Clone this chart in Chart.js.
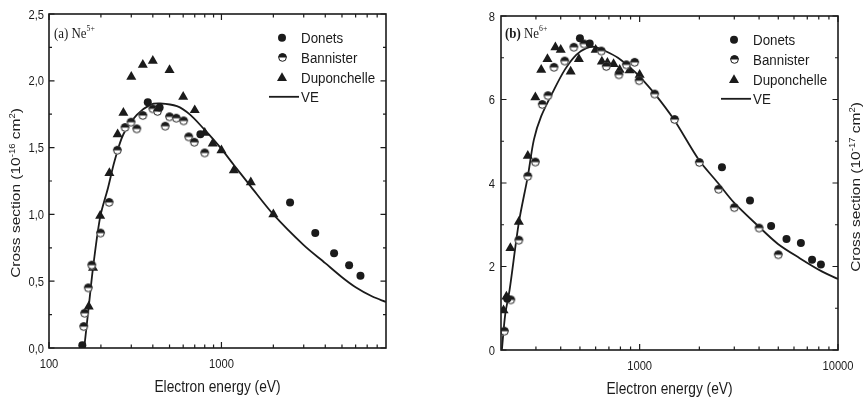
<!DOCTYPE html>
<html>
<head>
<meta charset="utf-8">
<title>Ne5+ and Ne6+ electron-impact ionization cross sections</title>
<script src="https://cdn.jsdelivr.net/npm/chart.js@4.4.1/dist/chart.umd.min.js"></script>
<style>
  html, body { margin: 0; padding: 0; background: #fff; }
  body { width: 865px; height: 400px; position: relative; overflow: hidden; }
  canvas { position: absolute; top: 0; }
  #neA { left: 0; }
  #neB { left: 435px; }
</style>
</head>
<body>
<canvas id="neA" width="435" height="400"></canvas>
<canvas id="neB" width="430" height="400"></canvas>
<script>
// ---------- Ne5+ (cross section in 1e-16 cm^2, energy in eV) ----------
const ne5DonetsE = [156, 374, 438, 755, 2500, 3500, 4500, 5500, 6400];
const ne5DonetsS = [0.02, 1.84, 1.80, 1.60, 1.09, 0.86, 0.71, 0.62, 0.54];
const ne5BannisterE = [159, 161, 169, 177, 199, 223, 249, 276, 299, 323, 350, 400, 426, 472, 500, 547, 604, 646, 696, 800];
const ne5BannisterS = [0.16, 0.26, 0.45, 0.62, 0.86, 1.09, 1.48, 1.65, 1.69, 1.64, 1.74, 1.79, 1.77, 1.66, 1.73, 1.72, 1.70, 1.58, 1.54, 1.46];
const ne5DuponchelleE = [170, 180, 198, 224, 250, 270, 300, 350, 400, 500, 600, 700, 800, 890, 1000, 1180, 1480, 2000];
const ne5DuponchelleS = [0.31, 0.60, 0.99, 1.31, 1.60, 1.76, 2.03, 2.12, 2.15, 2.08, 1.88, 1.78, 1.61, 1.53, 1.48, 1.33, 1.24, 1.00];
const ne5VeE = [160, 170, 180, 198, 220, 240, 270, 323, 386, 442, 552, 660, 790, 900, 1000, 1180, 1478, 2000, 3000, 4000, 5000, 6000, 7500, 9000];
const ne5VeS = [0, 0.31, 0.60, 0.98, 1.20, 1.40, 1.60, 1.745, 1.82, 1.83, 1.81, 1.745, 1.64, 1.56, 1.49, 1.37, 1.21, 1.00, 0.77, 0.635, 0.53, 0.455, 0.385, 0.345];

// ---------- Ne6+ (cross section in 1e-17 cm^2, energy in eV) ----------
const ne6DonetsE = [215, 500, 560, 2600, 3600, 4600, 5500, 6500, 7400, 8200];
const ne6DonetsS = [1.23, 7.47, 7.34, 4.38, 3.58, 2.97, 2.66, 2.56, 2.16, 2.05];
const ne6BannisterE = [208, 224, 246, 273, 298, 323, 345, 370, 419, 466, 524, 641, 679, 786, 857, 944, 994, 1190, 1500, 2000, 2500, 3000, 4000, 5000];
const ne6BannisterS = [0.45, 1.20, 2.63, 4.16, 4.50, 5.88, 6.09, 6.77, 6.92, 7.25, 7.33, 7.16, 6.79, 6.59, 6.83, 6.89, 6.45, 6.13, 5.52, 4.49, 3.85, 3.41, 2.92, 2.28];
const ne6DuponchelleE = [206, 213, 223, 246, 273, 298, 319, 343, 376, 400, 449, 494, 600, 645, 688, 739, 793, 890, 1000];
const ne6DuponchelleS = [0.95, 1.28, 2.44, 3.07, 4.65, 6.05, 6.71, 6.97, 7.25, 7.19, 6.67, 6.97, 7.19, 6.91, 6.88, 6.85, 6.71, 6.70, 6.59];
const ne6VeE = [202, 210, 221, 246, 273, 293, 319, 366, 419, 479, 539, 593, 679, 777, 908, 1000, 1190, 1489, 1991, 2484, 2991, 3980, 4980, 6410, 8240, 10000];
const ne6VeS = [0.0, 0.85, 1.44, 3.05, 4.16, 5.04, 5.60, 6.19, 6.71, 7.07, 7.23, 7.26, 7.15, 7.00, 6.74, 6.55, 6.14, 5.52, 4.55, 4.00, 3.53, 2.96, 2.54, 2.20, 1.89, 1.70];

// ---------- axis ticks ----------
const ne5XLabels = [100, 1000];
const ne5XMinor = [200, 300, 400, 500, 600, 700, 800, 900, 2000, 3000, 4000, 5000, 6000, 7000, 8000];
const ne5YLabels = [0, 0.5, 1.0, 1.5, 2.0, 2.5];
const ne5YMinor = [0.25, 0.75, 1.25, 1.75, 2.25];
const ne6XLabels = [1000, 10000];
const ne6XMinor = [300, 400, 500, 600, 700, 800, 900, 2000, 3000, 4000, 5000, 6000, 7000, 8000, 9000];
const ne6YLabels = [0, 2, 4, 6, 8];
const ne6YMinor = [1, 3, 5, 7];

const seriesNames = ['Donets', 'Bannister', 'Duponchelle', 'VE'];
const xTitle = 'Electron energy (eV)';

const INK = '#1b1b1b';
const SQUEEZE = 0.86;   // horizontal compression applied to upright text
const SANS = '"Liberation Sans", Arial, sans-serif';
const SERIF = '"Liberation Serif", "Times New Roman", serif';

function pts(xs, ys) { return xs.map((x, i) => ({ x, y: ys[i] })); }

// circle with the upper half filled, the lower half open
function halfDot(r) {
  const s = Math.ceil(r * 2 + 2);
  const c = document.createElement('canvas');
  c.width = c.height = s;
  const g = c.getContext('2d');
  const m = s / 2;
  g.fillStyle = '#fff';
  g.beginPath(); g.arc(m, m, r, 0, Math.PI * 2); g.fill();
  g.fillStyle = INK;
  g.beginPath(); g.arc(m, m, r, Math.PI, Math.PI * 2); g.closePath(); g.fill();
  g.strokeStyle = INK; g.lineWidth = 1;
  g.beginPath(); g.arc(m, m, r - 0.5, 0, Math.PI * 2); g.stroke();
  return c;
}
const HALF_DOT = halfDot(4.3);
const DOT_R = 4;
const TRI_R = 5.8;

function drawTriangle(ctx, x, y, r) {
  ctx.beginPath();
  for (let k = 0; k < 3; k++) {
    const a = k * 2 * Math.PI / 3;
    const px = x + Math.sin(a) * r, py = y - Math.cos(a) * r;
    k ? ctx.lineTo(px, py) : ctx.moveTo(px, py);
  }
  ctx.closePath(); ctx.fill();
}

function drawRich(ctx, parts, x, y) {
  let cx = x;
  for (const p of parts) {
    ctx.font = p.font;
    ctx.fillText(p.t, cx, y + (p.dy || 0));
    cx += ctx.measureText(p.t).width;
  }
  return cx - x;
}
function richWidth(ctx, parts) {
  let w = 0;
  for (const p of parts) { ctx.font = p.font; w += ctx.measureText(p.t).width; }
  return w;
}

// upright text, horizontally compressed, anchored by align at (x, baseline y)
function squeezedText(ctx, text, x, y, font, align) {
  ctx.save();
  ctx.font = font;
  ctx.textAlign = align;
  ctx.textBaseline = 'alphabetic';
  ctx.translate(x, y);
  ctx.scale(SQUEEZE, 1);
  ctx.fillText(text, 0, 0);
  ctx.restore();
}

// frame, inward ticks on all four sides, tick labels, axis titles, legend and panel tag
function panelPlugin(cfg) {
  return {
    id: 'nePanel',
    afterDraw(chart) {
      const { ctx, chartArea: a, scales } = chart;
      const xs = scales.x, ys = scales.y;
      ctx.save();
      ctx.strokeStyle = INK;
      ctx.fillStyle = INK;

      // tick marks
      ctx.lineWidth = 1.2;
      ctx.beginPath();
      const xt = (vals, len) => vals.forEach(v => {
        const p = xs.getPixelForValue(v);
        ctx.moveTo(p, a.bottom); ctx.lineTo(p, a.bottom - len);
        ctx.moveTo(p, a.top); ctx.lineTo(p, a.top + len);
      });
      const yt = (vals, len) => vals.forEach(v => {
        const p = ys.getPixelForValue(v);
        ctx.moveTo(a.left, p); ctx.lineTo(a.left + len, p);
        ctx.moveTo(a.right, p); ctx.lineTo(a.right - len, p);
      });
      xt(xs.ticks.map(t => t.value), 6); xt(cfg.xMinor, 3.5);
      yt(ys.ticks.map(t => t.value), 5.5); yt(cfg.yMinor, 3);
      ctx.stroke();

      // frame
      ctx.lineWidth = 1.6;
      ctx.strokeRect(a.left, a.top, a.right - a.left, a.bottom - a.top);

      // tick labels
      const tickFont = '13px ' + SANS;
      xs.ticks.forEach(t => squeezedText(ctx, cfg.xFmt(t.value), xs.getPixelForValue(t.value), a.bottom + 19.6, tickFont, 'center'));
      ys.ticks.forEach(t => squeezedText(ctx, cfg.yFmt(t.value), a.left - cfg.yPad, ys.getPixelForValue(t.value) + 4.6, tickFont, 'right'));

      // x axis title
      squeezedText(ctx, xTitle, (a.left + a.right) / 2, a.bottom + 43.5, '16px ' + SANS, 'center');

      // legend
      const mx = a.right - 104, tx = a.right - 85;
      seriesNames.forEach((name, i) => {
        const ry = a.top + 23.7 + 19.7 * i;
        if (i === 0) { ctx.beginPath(); ctx.arc(mx, ry, DOT_R, 0, Math.PI * 2); ctx.fill(); }
        if (i === 1) ctx.drawImage(HALF_DOT, Math.round(mx - HALF_DOT.width / 2), Math.round(ry - HALF_DOT.height / 2));
        if (i === 2) drawTriangle(ctx, mx, ry + 1, TRI_R);
        if (i === 3) {
          ctx.lineWidth = 1.8;
          ctx.beginPath(); ctx.moveTo(a.right - 117, ry); ctx.lineTo(a.right - 87, ry); ctx.stroke();
        }
        squeezedText(ctx, name, tx, ry + 5.5, '15.5px ' + SANS, 'left');
      });

      // panel tag
      ctx.save();
      ctx.textAlign = 'left';
      ctx.textBaseline = 'alphabetic';
      ctx.translate(a.left + cfg.tagDx, a.top + cfg.tagDy);
      ctx.scale(SQUEEZE, 1);
      drawRich(ctx, cfg.tag, 0, 0);
      ctx.restore();

      // y axis title
      ctx.save();
      ctx.textAlign = 'left';
      ctx.textBaseline = 'alphabetic';
      ctx.translate(cfg.titleX, cfg.titleY);
      ctx.rotate(-Math.PI / 2);
      ctx.scale(1, SQUEEZE);
      const w = richWidth(ctx, cfg.yTitle);
      drawRich(ctx, cfg.yTitle, -w / 2, 5.5);
      ctx.restore();

      ctx.restore();
    }
  };
}

function makeChart(id, d) {
  return new Chart(document.getElementById(id), {
    type: 'scatter',
    data: {
      datasets: [
        { label: 'Donets', data: pts(d.donE, d.donS), pointStyle: 'circle', pointRadius: DOT_R,
          backgroundColor: INK, borderColor: INK, borderWidth: 0, order: 0 },
        { label: 'Bannister', data: pts(d.banE, d.banS), pointStyle: HALF_DOT, pointRadius: 4.3,
          backgroundColor: INK, borderColor: INK, order: 0 },
        { label: 'Duponchelle', data: pts(d.dupE, d.dupS), pointStyle: 'triangle', pointRadius: TRI_R,
          backgroundColor: INK, borderColor: INK, borderWidth: 0, order: 0 },
        { label: 'VE', data: pts(d.veE, d.veS), showLine: true, pointRadius: 0, borderColor: INK,
          borderWidth: 1.8, tension: 0.3, fill: false, order: 5 }
      ]
    },
    options: {
      responsive: false,
      animation: false,
      events: [],
      layout: { padding: d.padding },
      plugins: { legend: { display: false }, tooltip: { enabled: false } },
      scales: {
        x: {
          type: 'logarithmic', min: d.xMin, max: d.xMax,
          afterBuildTicks: s => { s.ticks = d.xLabels.map(v => ({ value: v })); },
          afterFit: s => { s.height = d.xAxisHeight; },
          ticks: { display: false },
          grid: { display: false, drawTicks: false },
          border: { display: false },
          title: { display: false }
        },
        y: {
          min: 0, max: d.yMax,
          afterBuildTicks: s => { s.ticks = d.yLabels.map(v => ({ value: v })); },
          afterFit: s => { s.width = d.yAxisWidth; },
          ticks: { display: false },
          grid: { display: false, drawTicks: false },
          border: { display: false }
        }
      }
    },
    plugins: [panelPlugin(d.panel)]
  });
}

const supFont = '9.5px ' + SANS;
const titleFont = '15.5px ' + SANS;

makeChart('neA', {
  donE: ne5DonetsE, donS: ne5DonetsS,
  banE: ne5BannisterE, banS: ne5BannisterS,
  dupE: ne5DuponchelleE, dupS: ne5DuponchelleS,
  veE: ne5VeE, veS: ne5VeS,
  xMin: 100, xMax: 9000, yMax: 2.5,
  xLabels: ne5XLabels, yLabels: ne5YLabels,
  padding: { top: 14, right: 49, left: 0, bottom: 0 },
  xAxisHeight: 52, yAxisWidth: 49,
  panel: {
    xMinor: ne5XMinor, yMinor: ne5YMinor, yPad: 5,
    xFmt: v => String(v),
    yFmt: v => v.toFixed(1).replace('.', ','),
    tagDx: 5, tagDy: 24,
    tag: [{ t: '(a) Ne', font: '15px ' + SERIF }, { t: '5+', font: '9px ' + SERIF, dy: -7 }],
    titleX: 15, titleY: 193,
    yTitle: [{ t: 'Cross section (10', font: titleFont }, { t: '-16', font: supFont, dy: -6 },
             { t: ' cm', font: titleFont }, { t: '2', font: supFont, dy: -6 }, { t: ')', font: titleFont }]
  }
});

makeChart('neB', {
  donE: ne6DonetsE, donS: ne6DonetsS,
  banE: ne6BannisterE, banS: ne6BannisterS,
  dupE: ne6DuponchelleE, dupS: ne6DuponchelleS,
  veE: ne6VeE, veS: ne6VeS,
  xMin: 200, xMax: 10000, yMax: 8,
  xLabels: ne6XLabels, yLabels: ne6YLabels,
  padding: { top: 16, right: 27, left: 0, bottom: 0 },
  xAxisHeight: 50, yAxisWidth: 66,
  panel: {
    xMinor: ne6XMinor, yMinor: ne6YMinor, yPad: 6,
    xFmt: v => String(v),
    yFmt: v => String(v),
    tagDx: 4, tagDy: 22,
    tag: [{ t: '(b)', font: 'bold 15px ' + SERIF }, { t: ' Ne', font: '15px ' + SERIF },
          { t: '6+', font: '9px ' + SERIF, dy: -7 }],
    titleX: 420, titleY: 187,
    yTitle: [{ t: 'Cross section (10', font: titleFont }, { t: '-17', font: supFont, dy: -6 },
             { t: ' cm', font: titleFont }, { t: '2', font: supFont, dy: -6 }, { t: ')', font: titleFont }]
  }
});
</script>
</body>
</html>
